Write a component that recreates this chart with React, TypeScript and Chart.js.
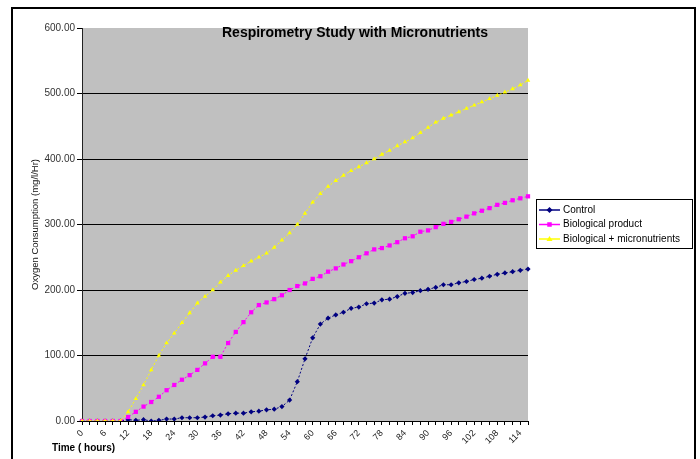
import React, { useEffect, useRef } from 'react';
import { Chart, registerables } from 'chart.js';

Chart.register(...registerables);

const chartTitle = 'Respirometry Study with Micronutrients';
const yAxisTitle = 'Oxygen Consumption (mg/l/Hr)';
const xAxisTitle = 'Time ( hours)';

const times = [
  0, 2, 4, 6, 8, 10, 12, 14, 16, 18, 20, 22, 24, 26, 28, 30, 32, 34, 36, 38,
  40, 42, 44, 46, 48, 50, 52, 54, 56, 58, 60, 62, 64, 66, 68, 70, 72, 74, 76, 78,
  80, 82, 84, 86, 88, 90, 92, 94, 96, 98, 100, 102, 104, 106, 108, 110, 112, 114, 116,
];

const seriesNames = ['Control', 'Biological product', 'Biological + micronutrients'];

const control = [
  0, 0, 0, 0, 0, 0,
  2, 1, 2, 0, 1, 3, 3, 5, 5, 5,
  6, 8, 9, 11, 12, 12, 14, 15, 17, 18,
  22, 32, 60, 95, 127, 148, 157, 162, 166, 172,
  174, 179, 180, 185, 186, 190, 195, 196, 199, 201,
  204, 208, 208, 211, 213, 216, 218, 221, 224, 226,
  228, 230, 232,
];

const biological = [
  0, 0, 0, 0, 0, 0,
  6, 14, 22, 29, 37, 47, 55, 63, 70, 78,
  88, 98, 98, 119, 136, 151, 166, 177, 181, 186,
  192, 200, 206, 210, 217, 221, 228, 233, 239, 244,
  250, 256, 262, 264, 268, 273, 279, 282, 289, 291,
  296, 301, 304, 308, 312, 317, 321, 325, 330, 333,
  337, 340, 343,
];

const micronutrients = [
  0, 0, 0, 0, 0, 0,
  14, 34, 55, 78, 100, 119, 134, 150, 165, 180,
  190, 200, 212, 222, 230, 237, 244, 250, 256, 265,
  276, 287, 300, 317, 334, 347, 358, 367, 375, 382,
  388, 394, 400, 407, 413, 420, 426, 432, 440, 448,
  456, 462, 467, 472, 477, 482, 487, 492, 497, 502,
  507, 513, 520,
];

const yMin = 0;
const yMax = 600;
const yStep = 100;
const labelEvery = 3;

const colors = ['#000080', '#ff00ff', '#ffff00'];
const markers = ['rectRot', 'rect', 'triangle'];

const FONT = '"Liberation Sans", Arial, sans-serif';

function drawMarker(ctx: CanvasRenderingContext2D, style: string, x: number, y: number, r: number) {
  ctx.beginPath();
  if (style === 'rectRot') {
    ctx.moveTo(x, y - r);
    ctx.lineTo(x + r, y);
    ctx.lineTo(x, y + r);
    ctx.lineTo(x - r, y);
    ctx.closePath();
  } else if (style === 'rect') {
    ctx.rect(x - r * 0.75, y - r * 0.75, r * 1.5, r * 1.5);
  } else {
    ctx.moveTo(x, y - r);
    ctx.lineTo(x + r, y + r * 0.7);
    ctx.lineTo(x - r, y + r * 0.7);
    ctx.closePath();
  }
  ctx.fill();
}

const decorPlugin = {
  id: 'decor',
  beforeDraw(chart: any) {
    const { ctx, chartArea: a } = chart;
    ctx.save();
    ctx.fillStyle = '#ffffff';
    ctx.fillRect(0, 0, chart.width, chart.height);
    ctx.fillStyle = '#c0c0c0';
    ctx.fillRect(a.left, a.top, a.right - a.left, a.bottom - a.top);
    ctx.restore();
  },
  afterDraw(chart: any) {
    const { ctx, chartArea: a } = chart;
    ctx.save();
    // outer frame
    ctx.strokeStyle = '#000';
    ctx.lineWidth = 2;
    ctx.strokeRect(12, 8, 683, 480);

    // title
    ctx.fillStyle = '#000';
    ctx.font = `bold 14px ${FONT}`;
    ctx.textAlign = 'center';
    ctx.textBaseline = 'middle';
    ctx.fillText(chartTitle, 355, a.top + 5);

    // y title
    ctx.save();
    ctx.translate(a.left - 47, (a.top + a.bottom) / 2);
    ctx.rotate(-Math.PI / 2);
    ctx.font = `9.5px ${FONT}`;
    ctx.fillStyle = '#111';
    ctx.fillText(yAxisTitle, 0, 0);
    ctx.restore();

    // x title
    ctx.font = `bold 10px ${FONT}`;
    ctx.textAlign = 'left';
    ctx.fillStyle = '#000';
    ctx.fillText(xAxisTitle, a.left - 30, a.bottom + 27);

    // legend
    const lx = 536;
    const ly = 199;
    const lw = 156;
    const lh = 49;
    ctx.fillStyle = '#ffffff';
    ctx.fillRect(lx, ly, lw, lh);
    ctx.strokeStyle = '#000';
    ctx.lineWidth = 1;
    ctx.strokeRect(lx + 0.5, ly + 0.5, lw, lh);
    chart.data.datasets.forEach((ds: any, i: number) => {
      const y = ly + 11 + i * 14.5;
      ctx.strokeStyle = ds.borderColor;
      ctx.lineWidth = 1.5;
      ctx.beginPath();
      ctx.moveTo(lx + 3, y);
      ctx.lineTo(lx + 24, y);
      ctx.stroke();
      ctx.fillStyle = ds.borderColor;
      drawMarker(ctx, ds.pointStyle, lx + 13.5, y, 3);
      ctx.fillStyle = '#000';
      ctx.font = `10px ${FONT}`;
      ctx.textAlign = 'left';
      ctx.textBaseline = 'middle';
      ctx.fillText(ds.label, lx + 27, y);
    });
    ctx.restore();
  },
};

export default function App() {
  const canvasRef = useRef<HTMLCanvasElement | null>(null);

  useEffect(() => {
    if (!canvasRef.current) return;
    const seriesData = [control, biological, micronutrients];
    const chart = new Chart(canvasRef.current, {
      type: 'line',
      data: {
        labels: times.map(String),
        datasets: seriesData.map((d, i) => ({
          label: seriesNames[i],
          data: d,
          borderColor: colors[i],
          backgroundColor: colors[i],
          borderWidth: 1,
          borderDash: [2, 2],
          pointStyle: markers[i] as any,
          pointRadius: i === 1 ? 3 : 2.6,
          pointBorderWidth: 0,
          pointBackgroundColor: colors[i],
          pointBorderColor: colors[i],
          tension: 0,
          fill: false,
          order: i === 2 ? 0 : i === 1 ? 1 : 2,
        })),
      },
      options: {
        animation: false,
        responsive: true,
        maintainAspectRatio: false,
        devicePixelRatio: 1,
        layout: { padding: { left: 0, top: 28, right: 172, bottom: 0 } },
        plugins: {
          legend: { display: false },
          tooltip: { enabled: false },
          title: { display: false },
        },
        scales: {
          x: {
            type: 'category',
            offset: false,
            grid: {
              drawOnChartArea: false,
              drawTicks: true,
              tickLength: 4,
              color: '#000',
            },
            border: { color: '#000', width: 1 },
            ticks: {
              autoSkip: false,
              maxRotation: 45,
              minRotation: 45,
              padding: 3,
              color: '#222',
              font: { family: FONT, size: 9 },
              callback: (_v: any, idx: number) => (idx % labelEvery === 0 ? String(times[idx]) : ''),
            },
            afterFit: (scale: any) => {
              scale.height = 38;
            },
          },
          y: {
            min: yMin,
            max: yMax,
            grid: {
              color: (c: any) => (c.tick && c.tick.value === yMax ? 'rgba(0,0,0,0)' : '#000'),
              tickColor: '#000',
              tickLength: 5,
              lineWidth: 1,
            },
            border: { color: '#222', width: 1 },
            ticks: {
              stepSize: yStep,
              padding: 2,
              color: '#333',
              font: { family: FONT, size: 10 },
              callback: (v: any) => Number(v).toFixed(2),
            },
            afterFit: (scale: any) => {
              scale.width = 82;
            },
          },
        },
      },
      plugins: [decorPlugin],
    });
    return () => chart.destroy();
  }, []);

  return (
    <div style={{ position: 'fixed', left: 0, top: 0, width: 700, height: 459 }}>
      <canvas ref={canvasRef} />
    </div>
  );
}
